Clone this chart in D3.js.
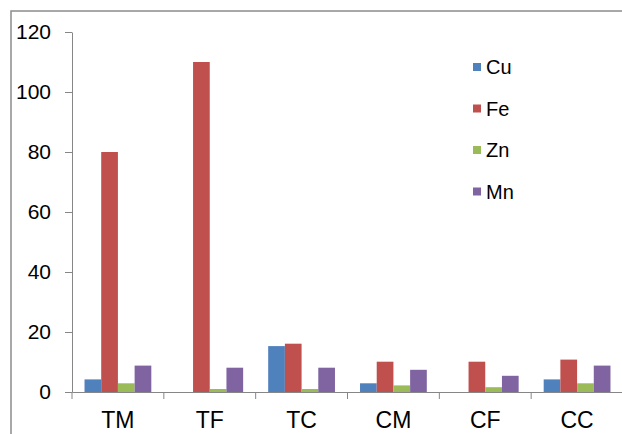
<!DOCTYPE html>
<html>
<head>
<meta charset="utf-8">
<script src="https://cdn.jsdelivr.net/npm/d3@7"></script>
<style>
  body { margin: 0; background: #fff; }
  text { font-family: "Liberation Sans", Arial, sans-serif; fill: #000; }
</style>
</head>
<body>
<script>
var categories = ["TM", "TF", "TC", "CM", "CF", "CC"];
var series = ["Cu", "Fe", "Zn", "Mn"];
var colors = ["#4F81BD", "#C0504D", "#9BBB59", "#8064A2"];

var Cu = [4.2, 0, 15.3, 2.9, 0, 4.2];
var Fe = [80, 110, 16.1, 10.1, 10.1, 10.8];
var Zn = [2.9, 1.0, 1.0, 2.2, 1.6, 2.9];
var Mn = [8.8, 8.1, 8.1, 7.4, 5.4, 8.8];
var yTicks = [0, 20, 40, 60, 80, 100, 120];

var values = [Cu, Fe, Zn, Mn];

var data = categories.map(function(c, i) {
  return { cat: c, vals: series.map(function(s, j) { return { key: s, value: values[j][i] }; }) };
});

var width = 622, height = 434;

var svg = d3.select("body").append("svg")
    .attr("width", width)
    .attr("height", height);

// chart border
svg.append("rect")
    .attr("x", 11)
    .attr("y", 11)
    .attr("width", 640)
    .attr("height", 460)
    .style("fill", "none")
    .style("stroke", "#8c8c8c")
    .style("stroke-width", 1.5);

var x = d3.scaleBand()
    .domain(categories)
    .range([72, 623]);

var x1 = d3.scaleBand()
    .domain(series)
    .range([0, x.bandwidth()])
    .paddingOuter(0.75);

var y = d3.scaleLinear()
    .domain([0, 120])
    .range([392, 32]);

var color = d3.scaleOrdinal().domain(series).range(colors);

// bars
var group = svg.selectAll(".group")
    .data(data)
  .enter().append("g")
    .attr("class", "group")
    .attr("transform", function(d) { return "translate(" + x(d.cat) + ",0)"; });

group.selectAll("rect")
    .data(function(d) { return d.vals.filter(function(v) { return v.value > 0; }); })
  .enter().append("rect")
    .attr("x", function(d) { return x1(d.key); })
    .attr("width", x1.bandwidth())
    .attr("y", function(d) { return y(d.value); })
    .attr("height", function(d) { return y(0) - y(d.value); })
    .style("fill", function(d) { return color(d.key); });

// y axis
var yAxis = d3.axisLeft(y)
    .tickValues(yTicks)
    .tickSize(7)
    .tickSizeOuter(0)
    .tickPadding(14);

var gy = svg.append("g")
    .attr("transform", "translate(72,0)")
    .call(yAxis);
gy.selectAll("text").style("font-size", "21px");
gy.selectAll("line, path").style("stroke", "#868686");

// x axis
var xAxis = d3.axisBottom(x)
    .tickSize(0)
    .tickPadding(20);

var gx = svg.append("g")
    .attr("transform", "translate(0,392)")
    .call(xAxis);
gx.select(".domain").style("stroke", "#868686");
gx.selectAll("text").style("font-size", "23px");

gx.selectAll(".sep")
    .data(categories)
  .enter().append("line")
    .attr("class", "sep")
    .attr("x1", function(d) { return x(d); })
    .attr("x2", function(d) { return x(d); })
    .attr("y1", 0)
    .attr("y2", 7)
    .style("stroke", "#868686");

// legend
var legend = svg.selectAll(".legend")
    .data(series)
  .enter().append("g")
    .attr("class", "legend")
    .attr("transform", function(d, i) { return "translate(473," + (67 + i * 41.5) + ")"; });

legend.append("rect")
    .attr("x", 0)
    .attr("y", -4)
    .attr("width", 8)
    .attr("height", 8)
    .style("fill", color);

legend.append("text")
    .attr("x", 13)
    .attr("y", 0)
    .attr("dy", ".35em")
    .style("font-size", "20px")
    .text(function(d) { return d; });
</script>
</body>
</html>
